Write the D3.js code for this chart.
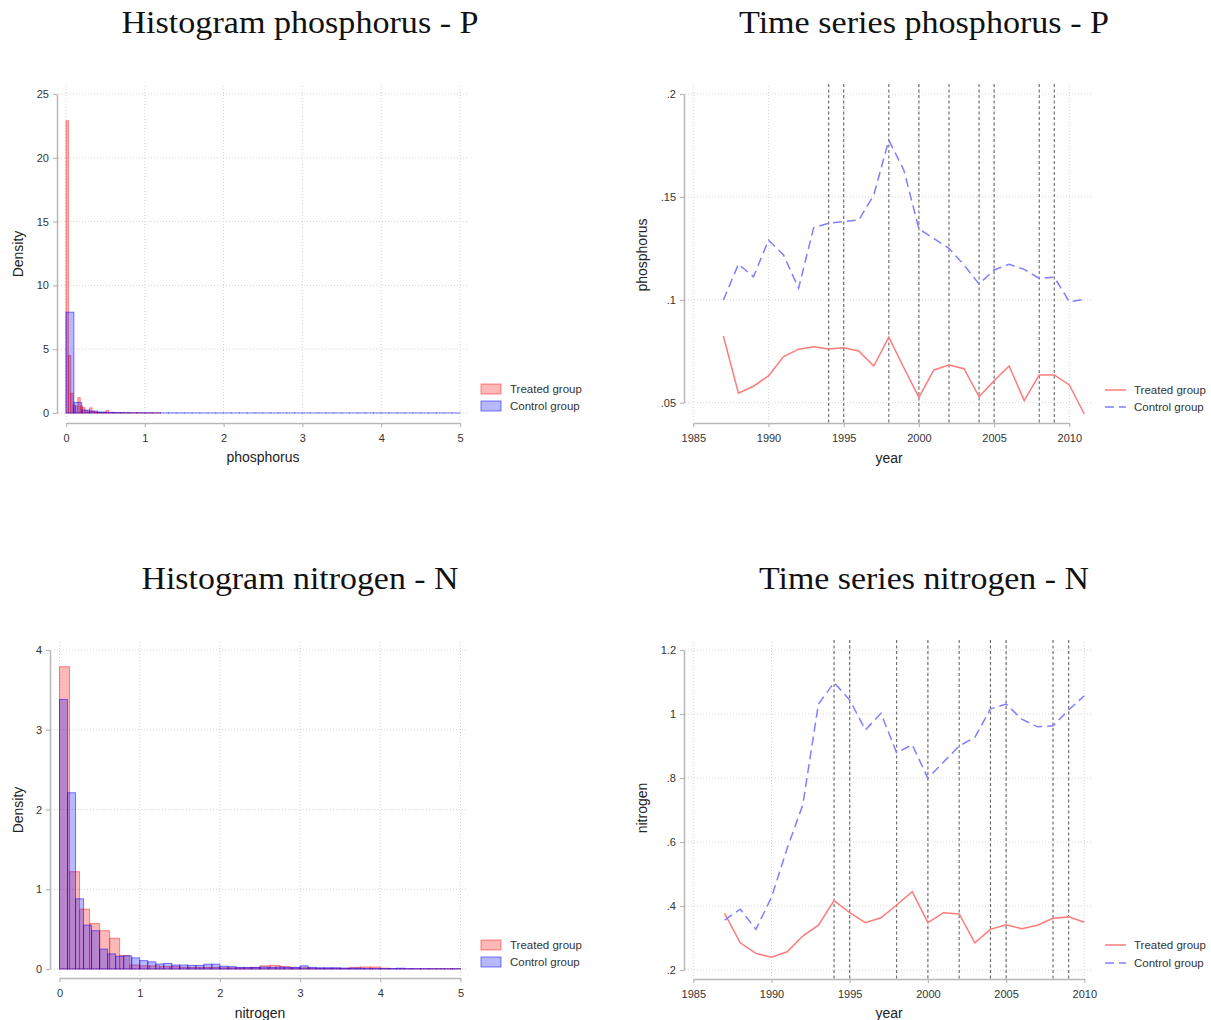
<!DOCTYPE html>
<html>
<head>
<meta charset="utf-8">
<script src="https://cdn.jsdelivr.net/npm/d3@7"></script>
<style>
  body { margin: 0; background: #fff; }
  text { font-family: "Liberation Sans", Arial, sans-serif; fill: #222; }
  .title { font-family: "Liberation Serif", "DejaVu Serif", serif; font-size: 32px; fill: #111; }
  .tick text { font-size: 11px; fill: #333; }
  .axis-title { font-size: 14px; fill: #222; }
  .legend text { font-size: 11.5px; fill: #333; }
</style>
</head>
<body>
<svg id="chart" width="1211" height="1020"></svg>
<script>
// ---- data ----
const groups = ["Treated group", "Control group"];

const histTicksX = [0, 1, 2, 3, 4, 5];
const pHistTicksY = [0, 5, 10, 15, 20, 25];
const nHistTicksY = [0, 1, 2, 3, 4];

// phosphorus histogram, density per bin (bins start at 0)
const pTreatedBinWidth = 0.03;
const pTreatedDensity = [22.9, 4.5, 1.55, 0.6, 0.55, 1.2, 0.55, 0.42, 0.2, 0.1, 0.4, 0.15, 0.08, 0.05, 0.05, 0.03, 0.03, 0.2,
  0.03, 0.02, 0.05, 0.02, 0.03, 0.01, 0.05, 0.01, 0.02, 0.01, 0.01, 0.02, 0.01, 0.01, 0.01, 0.01, 0.02, 0.01, 0.01, 0.005, 0.005, 0.02];
const pControlBinWidth = 0.1;
const pControlDensity = [7.9, 0.83, 0.23, 0.15, 0.08, 0.05, 0.04, 0.03, 0.02, 0.02, 0.015, 0.01, 0.01, 0.01, 0.008, 0.008,
  0.006, 0.006, 0.005, 0.005, 0.005, 0.004, 0.004, 0.004, 0.004, 0.003, 0.003, 0.003, 0.003, 0.003, 0.003, 0.003, 0.003,
  0.003, 0.003, 0.003, 0.003, 0.003, 0.003, 0.003, 0.003, 0.003, 0.003, 0.003, 0.003, 0.003, 0.003, 0.003, 0.003, 0.003];

// nitrogen histogram
const nTreatedBinWidth = 0.125;
const nTreatedDensity = [3.79, 1.22, 0.75, 0.57, 0.48, 0.385, 0.17, 0.05, 0.04, 0.04, 0.03, 0.03, 0.02, 0.02, 0.02, 0.02,
  0.015, 0.015, 0.015, 0.02, 0.04, 0.045, 0.03, 0.015, 0.015, 0.01, 0.01, 0.01, 0.01, 0.02, 0.025, 0.025, 0.01, 0.005,
  0.005, 0.005, 0.005, 0.005, 0.005, 0.005];
const nControlBinWidth = 0.1;
const nControlDensity = [3.38, 2.21, 0.88, 0.55, 0.48, 0.25, 0.19, 0.16, 0.165, 0.14, 0.105, 0.09, 0.063, 0.07, 0.05, 0.05,
  0.045, 0.045, 0.06, 0.06, 0.035, 0.03, 0.02, 0.02, 0.02, 0.025, 0.02, 0.025, 0.02, 0.02, 0.04, 0.02, 0.015, 0.015, 0.015,
  0.01, 0.01, 0.01, 0.006, 0.006, 0.006, 0.006, 0.01, 0.005, 0.005, 0.005, 0.004, 0.004, 0.004, 0.004];

// time series
const yearTicks = [1985, 1990, 1995, 2000, 2005, 2010];
const policyYears = [1994, 1995, 1998, 2000, 2002, 2004, 2005, 2008, 2009];

const pYears = [1987, 1988, 1989, 1990, 1991, 1992, 1993, 1994, 1995, 1996, 1997, 1998, 1999,
  2000, 2001, 2002, 2003, 2004, 2005, 2006, 2007, 2008, 2009, 2010, 2011];
const pTreated = [0.0824, 0.0546, 0.058, 0.063, 0.0724, 0.076, 0.0772, 0.0761, 0.0767, 0.0751, 0.0678, 0.0818, 0.067,
  0.0526, 0.0659, 0.0683, 0.0665, 0.0529, 0.0607, 0.0678, 0.051, 0.0635, 0.0635, 0.0586, 0.0445];
const pControl = [0.0999, 0.1173, 0.1112, 0.129, 0.1218, 0.1056, 0.135, 0.1372, 0.138, 0.1388, 0.1509, 0.1776, 0.163,
  0.1345, 0.1297, 0.125, 0.1169, 0.1077, 0.1145, 0.1172, 0.1148, 0.1104, 0.111, 0.0991, 0.1002];
const pTsTicks = [0.05, 0.1, 0.15, 0.2];

const nYears = [1987, 1988, 1989, 1990, 1991, 1992, 1993, 1994, 1995, 1996, 1997, 1998, 1999,
  2000, 2001, 2002, 2003, 2004, 2005, 2006, 2007, 2008, 2009, 2010];
const nTreated = [0.377, 0.285, 0.252, 0.24, 0.257, 0.306, 0.34, 0.417, 0.379, 0.348, 0.363, 0.403, 0.445,
  0.348, 0.379, 0.375, 0.285, 0.327, 0.341, 0.329, 0.34, 0.3615, 0.366, 0.349];
const nControl = [0.356, 0.39, 0.327, 0.427, 0.58, 0.716, 1.031, 1.098, 1.044, 0.95, 1.002, 0.879, 0.904,
  0.799, 0.85, 0.9, 0.927, 1.016, 1.031, 0.984, 0.96, 0.963, 1.0125, 1.057];
const nTsTicks = [0.2, 0.4, 0.6, 0.8, 1, 1.2];

// ---- styles ----
const redFill = "rgba(255,0,0,0.28)", redStroke = "rgba(255,0,0,0.45)";
const blueFill = "rgba(0,0,255,0.28)", blueStroke = "rgba(0,0,255,0.5)";
const redLine = "#ff7b7b", blueLine = "#7f7fff";
const gridColor = "#d4d4d4", axisColor = "#b8b8b8";

const svg = d3.select("#chart");

function stataFmt(d) {
    return d3.format("~g")(d).replace(/^0\./, ".");
}

function drawTitle(text, cx, y, width) {
    svg.append("text")
        .attr("class", "title")
        .attr("x", cx)
        .attr("y", y)
        .attr("text-anchor", "middle")
        .attr("textLength", width)
        .attr("lengthAdjust", "spacingAndGlyphs")
        .text(text);
}

// common frame: grid, axes, axis titles
function drawFrame(p) {
    let g = svg.append("g");

    // grid
    g.selectAll(".hgrid").data(p.ticksY).enter().append("line")
        .attr("x1", p.yAxisX + 1).attr("x2", p.gridRight)
        .attr("y1", d => p.y(d)).attr("y2", d => p.y(d))
        .attr("stroke", gridColor).attr("stroke-dasharray", "1,2");
    g.selectAll(".vgrid").data(p.ticksX).enter().append("line")
        .attr("x1", d => p.x(d)).attr("x2", d => p.x(d))
        .attr("y1", p.gridTop).attr("y2", p.xAxisY - 1)
        .attr("stroke", gridColor).attr("stroke-dasharray", "1,2");

    // axes
    let yAxis = d3.axisLeft(p.y).tickValues(p.ticksY).tickFormat(p.fmtY).tickSizeOuter(0).tickSizeInner(4).tickPadding(4);
    let xAxis = d3.axisBottom(p.x).tickValues(p.ticksX).tickFormat(p.fmtX).tickSizeOuter(0).tickSizeInner(4).tickPadding(7);

    let ya = g.append("g").attr("transform", "translate(" + p.yAxisX + ",0)").call(yAxis);
    let xa = g.append("g").attr("transform", "translate(0," + p.xAxisY + ")").call(xAxis);
    [ya, xa].forEach(a => {
        a.select(".domain").attr("stroke", axisColor).attr("stroke-width", 1.5);
        a.selectAll(".tick line").attr("stroke", axisColor).attr("stroke-width", 1.2);
        a.selectAll(".tick text").attr("fill", "#333").style("font-size", "11px").attr("font-family", null);
    });

    // axis titles
    g.append("text").attr("class", "axis-title")
        .attr("x", p.xTitle[0]).attr("y", p.xTitle[1])
        .attr("text-anchor", "middle").text(p.xLabel);
    g.append("text").attr("class", "axis-title")
        .attr("transform", "translate(" + p.yTitle[0] + "," + p.yTitle[1] + ") rotate(-90)")
        .attr("text-anchor", "middle").text(p.yLabel);
    return g;
}

function drawHist(p) {
    let g = drawFrame(p);
    p.series.forEach(s => {
        let bins = s.density.map((d, i) => ({x0: i * s.width, x1: (i + 1) * s.width, v: d}));
        g.append("g").selectAll("rect").data(bins).enter().append("rect")
            .attr("x", d => p.x(d.x0))
            .attr("width", d => p.x(d.x1) - p.x(d.x0))
            .attr("y", d => p.y(d.v))
            .attr("height", d => p.y(0) - p.y(d.v))
            .attr("fill", s.fill)
            .attr("stroke", s.stroke)
            .attr("stroke-width", 1);
    });
    // legend
    let lg = g.append("g").attr("class", "legend");
    p.series.forEach((s, i) => {
        let cy = p.legendY[i];
        lg.append("rect").attr("x", p.legendX).attr("y", cy - 5).attr("width", 20).attr("height", 10)
            .attr("fill", s.fill).attr("stroke", s.stroke);
        lg.append("text").attr("x", p.legendX + 29).attr("y", cy + 4).text(s.name);
    });
}

function drawSeries(p) {
    let g = drawFrame(p);
    // policy years
    g.selectAll(".policy").data(policyYears).enter().append("line")
        .attr("x1", d => p.x(d)).attr("x2", d => p.x(d))
        .attr("y1", p.gridTop - 2).attr("y2", p.xAxisY)
        .attr("stroke", "#666").attr("stroke-width", 1.1).attr("stroke-dasharray", "3,2.5");

    let line = d3.line().x(d => p.x(d[0])).y(d => p.y(d[1]));
    p.series.forEach(s => {
        g.append("path")
            .datum(p.years.map((yr, i) => [yr, s.values[i]]))
            .attr("d", line)
            .attr("fill", "none")
            .attr("stroke", s.color)
            .attr("stroke-width", 1.5)
            .attr("stroke-dasharray", s.dash);
    });
    let lg = g.append("g").attr("class", "legend");
    p.series.forEach((s, i) => {
        let cy = p.legendY[i];
        lg.append("line").attr("x1", p.legendX).attr("x2", p.legendX + 21).attr("y1", cy).attr("y2", cy)
            .attr("stroke", s.color).attr("stroke-width", 1.5).attr("stroke-dasharray", s.dash);
        lg.append("text").attr("x", p.legendX + 29).attr("y", cy + 4).text(s.name);
    });
}

// ---- titles ----
drawTitle("Histogram phosphorus - P", 300, 33, 357);
drawTitle("Time series phosphorus - P", 924, 33, 370);
drawTitle("Histogram nitrogen - N", 300, 589, 317);
drawTitle("Time series nitrogen - N", 924, 589, 330);

// ---- histogram phosphorus ----
drawHist({
    x: d3.scaleLinear().domain([0, 5]).range([66, 460]),
    y: d3.scaleLinear().domain([0, 25]).range([413, 94]),
    ticksX: histTicksX, ticksY: pHistTicksY,
    fmtX: d3.format("d"), fmtY: d3.format("d"),
    yAxisX: 57, xAxisY: 423, gridRight: 468, gridTop: 86,
    xLabel: "phosphorus", xTitle: [263, 462], yLabel: "Density", yTitle: [23, 254],
    legendX: 481, legendY: [389, 406],
    series: [
        {name: groups[0], width: pTreatedBinWidth, density: pTreatedDensity, fill: redFill, stroke: redStroke},
        {name: groups[1], width: pControlBinWidth, density: pControlDensity, fill: blueFill, stroke: blueStroke}
    ]
});

// ---- histogram nitrogen ----
drawHist({
    x: d3.scaleLinear().domain([0, 5]).range([59.5, 460.5]),
    y: d3.scaleLinear().domain([0, 4]).range([969, 650]),
    ticksX: histTicksX, ticksY: nHistTicksY,
    fmtX: d3.format("d"), fmtY: d3.format("d"),
    yAxisX: 50, xAxisY: 978, gridRight: 468, gridTop: 642,
    xLabel: "nitrogen", xTitle: [260, 1018], yLabel: "Density", yTitle: [23, 810],
    legendX: 481, legendY: [945, 962],
    series: [
        {name: groups[0], width: nTreatedBinWidth, density: nTreatedDensity, fill: redFill, stroke: redStroke},
        {name: groups[1], width: nControlBinWidth, density: nControlDensity, fill: blueFill, stroke: blueStroke}
    ]
});

// ---- time series phosphorus ----
drawSeries({
    x: d3.scaleLinear().domain([1985, 2010]).range([693.3, 1069.3]),
    y: d3.scaleLinear().domain([0.05, 0.2]).range([402.7, 94]),
    ticksX: yearTicks, ticksY: pTsTicks,
    fmtX: d3.format("d"), fmtY: stataFmt,
    yAxisX: 684, xAxisY: 423, gridRight: 1093, gridTop: 86,
    xLabel: "year", xTitle: [889, 463], yLabel: "phosphorus", yTitle: [647, 255],
    legendX: 1105, legendY: [390, 407],
    years: pYears,
    series: [
        {name: groups[0], values: pTreated, color: redLine, dash: null},
        {name: groups[1], values: pControl, color: blueLine, dash: "9,5"}
    ]
});

// ---- time series nitrogen ----
drawSeries({
    x: d3.scaleLinear().domain([1985, 2010]).range([693.3, 1084.3]),
    y: d3.scaleLinear().domain([0.2, 1.2]).range([970, 650]),
    ticksX: yearTicks, ticksY: nTsTicks,
    fmtX: d3.format("d"), fmtY: stataFmt,
    yAxisX: 684, xAxisY: 979, gridRight: 1093, gridTop: 642,
    xLabel: "year", xTitle: [889, 1018], yLabel: "nitrogen", yTitle: [647, 808],
    legendX: 1105, legendY: [945, 963],
    years: nYears,
    series: [
        {name: groups[0], values: nTreated, color: redLine, dash: null},
        {name: groups[1], values: nControl, color: blueLine, dash: "9,5"}
    ]
});
</script>
</body>
</html>
